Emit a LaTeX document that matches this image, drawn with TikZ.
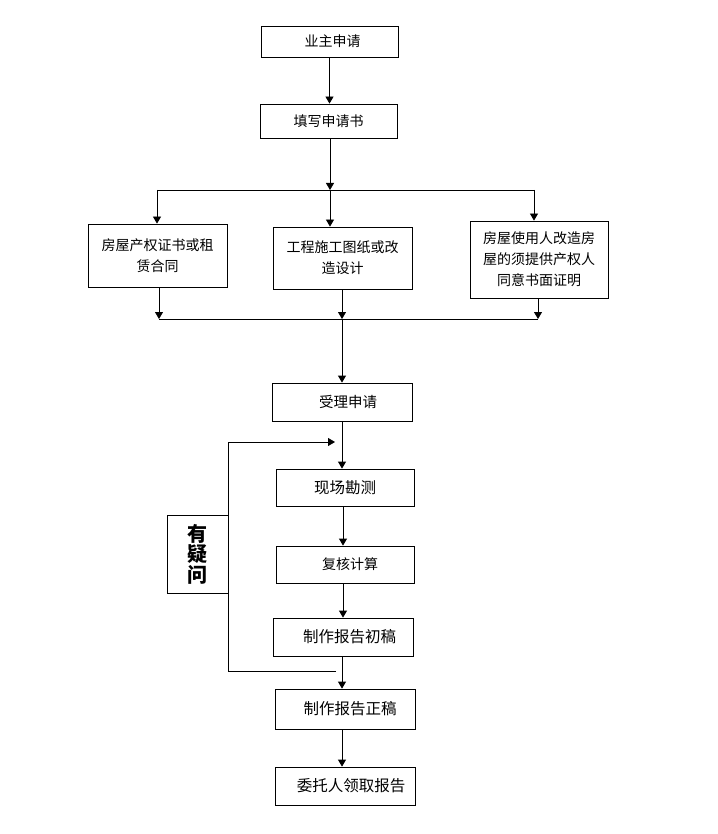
\documentclass[tikz,border=0pt]{standalone}
\usepackage{fontspec}
\setmainfont{Noto Sans CJK SC}
\newfontfamily\cjk{Noto Sans CJK SC}
\usetikzlibrary{arrows.meta}
\begin{document}
\begin{tikzpicture}[x=1pt,y=-1pt,
  line width=0.8pt,
  box/.style={draw,line width=0.8pt,inner sep=0pt,align=center,font=\cjk\fontsize{14}{21}\selectfont},
  arr/.style={-{Triangle[width=8pt,length=7pt]}},
  ln/.style={line width=0.8pt}]
\useasboundingbox (0,0) rectangle (717,834);
\fill[white] (0,0) rectangle (717,834);

\node[box,minimum width=137pt,minimum height=31pt] (a) at (329.5,41.5) {业主申请\hspace*{-6pt}};
\node[box,minimum width=137pt,minimum height=34pt] (b) at (328.5,121) {填写申请书};
\node[box,minimum width=139pt,minimum height=63pt] (c1) at (157.5,255.5) {房屋产权证书或租\\赁合同};
\node[box,minimum width=139pt,minimum height=62pt] (c2) at (342.5,258) {工程施工图纸或改\\造设计};
\node[box,minimum width=138pt,minimum height=77pt] (c3) at (539,259.5) {房屋使用人改造房\\屋的须提供产权人\\同意书面证明};
\node[box,minimum width=140pt,minimum height=38pt,font=\cjk\fontsize{14.5}{21}\selectfont] (d) at (342,402) {\hspace*{12pt}受理申请};
\node[box,minimum width=138pt,minimum height=37pt,font=\cjk\fontsize{15.5}{21}\selectfont] (e) at (345,487.5) {现场勘测};
\node[box,minimum width=138pt,minimum height=37pt,font=\cjk\fontsize{14}{21}\selectfont] (f) at (345,564.5) {\hspace*{10pt}复核计算};
\node[box,minimum width=140pt,minimum height=38pt,font=\cjk\fontsize{15.5}{21}\selectfont] (g) at (343,637) {\hspace*{13pt}制作报告初稿};
\node[box,minimum width=140pt,minimum height=40pt,font=\cjk\fontsize{15.5}{21}\selectfont] (h) at (345,709) {\hspace*{10pt}制作报告正稿};
\node[box,minimum width=140pt,minimum height=38pt,font=\cjk\fontsize{15.5}{21}\selectfont] (i) at (345,786) {\hspace*{12pt}委托人领取报告};
\node[box,minimum width=61pt,minimum height=78pt,font=\cjk\bfseries\fontsize{20}{20.5}\selectfont] (q) at (197.5,554) {有\\疑\\问};

% top part
\draw[arr] (a.south) -- (a.south |- b.north);
\coordinate (s0) at (330,190);
\coordinate (sl) at (157,190);
\coordinate (sr) at (534,190);
\draw[arr] (b.south -| s0) -- (s0);
\draw[ln] (sl) -- (sr);
\draw[arr] (sl) -- (sl |- c1.north);
\draw[arr] (s0) -- (s0 |- c2.north);
\draw[arr] (sr) -- (sr |- c3.north);

% merge
\coordinate (m1) at (159,319);
\coordinate (m2) at (342,319);
\coordinate (m3) at (538,319);
\draw[arr] (m1 |- c1.south) -- (m1);
\draw[arr] (m2 |- c2.south) -- (m2);
\draw[arr] (m3 |- c3.south) -- (m3);
\draw[ln] (m1) -- (m3);
\draw[arr] (m2) -- (m2 |- d.north);

% main chain
\draw[arr] (m2 |- d.south) -- (m2 |- e.north);
\coordinate (k) at (343,0);
\draw[arr] (k |- e.south) -- (k |- f.north);
\draw[arr] (k |- f.south) -- (k |- g.north);
\coordinate (k2) at (342,0);
\draw[arr] (k2 |- g.south) -- (k2 |- h.north);
\draw[arr] (k2 |- h.south) -- (k2 |- i.north);

% feedback loop
\coordinate (fb1) at (336,671);
\coordinate (fb2) at (228,671);
\coordinate (fb3) at (228,442);
\coordinate (fb4) at (335,442);
\draw[ln] (fb1) -- (fb2) -- (fb3);
\draw[arr] (fb3) -- (fb4);
\end{tikzpicture}
\end{document}
